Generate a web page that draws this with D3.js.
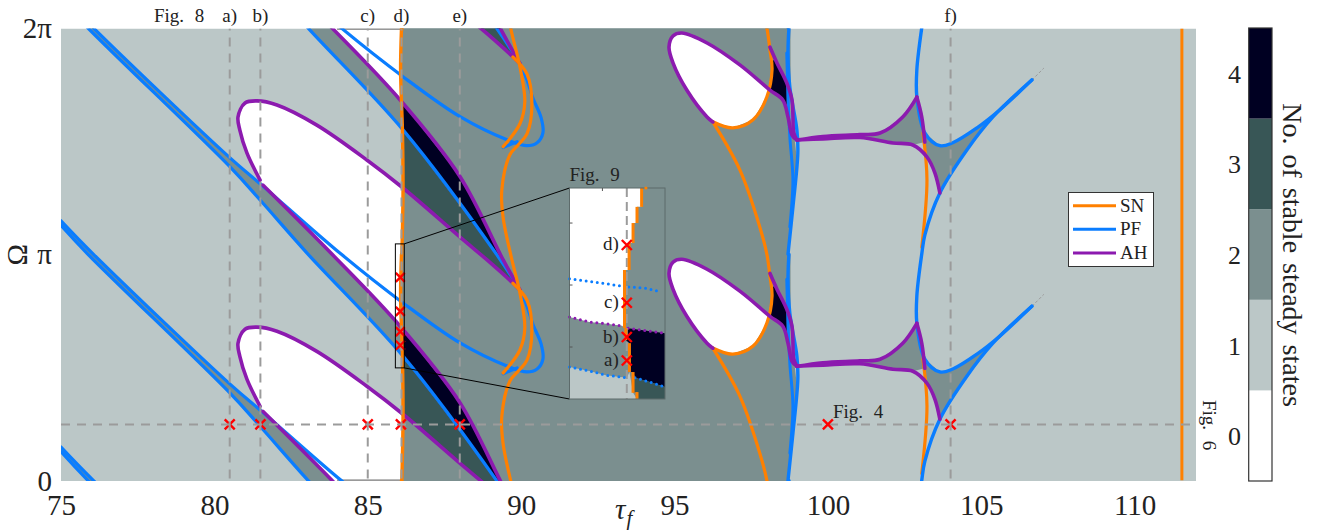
<!DOCTYPE html>
<html><head><meta charset="utf-8">
<style>html,body{margin:0;padding:0;background:#fff}svg{display:block}text{font-family:"Liberation Serif",serif;fill:#222}</style>
<script src="https://cdn.jsdelivr.net/npm/d3@7"></script></head><body><div id="c"></div>
<script>
// ---- colour levels (number of stable steady states)
const levels=[0,1,2,3,4];
const levelColors=["#ffffff","#bbc7c7","#7b8f8f","#385656","#000022"];
const ORANGE="#ff8000",BLUE="#0a7dff",PURPLE="#8c1aaf",GREY="#9b9b9b",RED="#ff0000";
// ---- axes
const xTicks=[75,80,85,90,95,100,105,110];
const yTicks=[0,1,2];
const yTickLabels=["0","π","2π"];
const cbTicks=[0,1,2,3,4];
// ---- the pattern repeats with period π in Ω: each curve is read once, in τ_f and Ω/π
const periods=[-2,-1,0,1,2];
const pfLowerTau=[75,75.88,80.51,81.49,83.05,86.15,89.21,89.96];
const pfLowerOm=[2.130,2.002,1.388,1.242,1.003,0.552,0,-0.155];
const pfUpperTau=[75,76.06,80.51,81.62,84.13,86.15,88.01,89.54,90.19,90.52,90.71,90.65,90.38,90.19,89.96];
const pfUpperOm=[2.150,2.002,1.428,1.299,1.003,0.787,0.610,0.508,0.482,0.495,0.539,0.606,0.694,0.773,0.844];
const ahDiagTau=[81.58,83.83,86.05,88.01,89.41,89.96];
const ahDiagOm=[1.308,1.003,0.685,0.345,-0.022,-0.155];
const ahLoopTau=[89.96,89.73,88.89,88.01,86.15,84.97,83.34,82.04,81.39,81.0,80.77,80.83,81.06,81.49];
const ahLoopOm=[0.844,0.875,0.977,1.078,1.295,1.419,1.573,1.662,1.680,1.671,1.609,1.551,1.450,1.330];
const snWallTau=[86.10,86.07,86.13,86.15,86.11];
const snWallOm=[2.002,1.817,1.551,1.286,0.995];
const snSTau=[89.73,90.19,90.35,90.19,89.90,89.63,89.37,89.41,89.70,89.96,90.12,89.96,89.41];
const snSOm=[1.874,1.799,1.666,1.534,1.485,1.441,1.286,1.167,0.977,0.831,0.676,0.579,0.477];
const pfStubTau=[89.41,89.87];
const pfStubOm=[0.474,0.500];
const ahEggTau=[98.99,98.83,98.70,98.53,98.11,97.13,96.06,95.24,94.95,94.82,94.95,95.40,96.06,96.25];
const ahEggOm=[1.507,1.529,1.609,1.684,1.728,1.839,1.936,1.980,1.967,1.918,1.848,1.728,1.609,1.587];
const ahSideTau=[98.11,98.34,98.66,98.83,98.89,98.99];
const ahSideOm=[1.918,1.848,1.759,1.684,1.538,1.507];
const snSpiralTau=[96.25,96.90,97.56,98.01,98.18,98.11,98.01,97.78,97.13,96.25];
const snSpiralOm=[0.588,0.561,0.597,0.698,0.818,0.906,1.003,1.123,1.375,1.587];
const pfVertATau=[98.73,98.70,98.76,98.99,99.02,98.86,98.70];
const pfVertAOm=[2.002,1.892,1.741,1.551,1.450,1.211,1.003];
const pfVertBTau=[98.66,98.70,98.76,98.86,98.76];
const pfVertBOm=[1.892,1.697,1.520,1.330,1.123];
const edgeTau=[98.78,98.79,98.92,98.99,98.83,98.72];
const edgeOm=[2.002,1.596,1.507,1.419,1.153,0.995];
const blackEggTau=[98.21,98.34,98.66,98.66,98.53,98.11,98.18];
const blackEggOm=[1.861,1.848,1.759,1.662,1.684,1.728,1.794];
const ahUpTau=[98.99,99.84,101.04,101.70,102.44,102.90];
const ahUpOm=[1.507,1.523,1.531,1.538,1.609,1.697];
const ahBackTau=[102.90,103.06,103.16];
const ahBackOm=[1.697,1.609,1.498];
const ahLowTau=[98.99,99.84,101.04,102.12,102.77,103.23,103.49,103.65];
const ahLowOm=[1.507,1.512,1.518,1.494,1.485,1.432,1.361,1.273];
const pfCuspTau=[106.65,105.38,104.53,103.65,103.16,103.06,102.90,102.90,103.16,103.65,104.07,104.86,105.61,106.65];
const pfCuspOm=[1.772,1.609,1.463,1.273,1.087,1.003,0.818,0.698,0.539,0.482,0.495,0.561,0.641,0.773];
const fanTau=[103.16,103.65,104.07,104.86,105.61,106.65,105.38,104.53,103.65,103.49,103.23,103.16];
const fanOm=[1.539,1.482,1.495,1.561,1.641,1.772,1.609,1.463,1.273,1.361,1.432,1.498];
const snShortTau=[103.10,103.23,103.06];
const snShortOm=[1.538,1.330,1.034];
const tailTau=[106.65,107.04];
const tailOm=[1.772,1.825];
const snFarTau=[111.54,111.54];
const snFarOm=[2,0.003];
// ---- dashed guide lines, crosses, labels
const guideTau=[80.5,81.5,85,86.1,88,104];
const guideLabels=["a)","b)","c)","d)","e)","f)"];
const guideOm=0.25;
const crossLowTau=[80.5,81.5,85,86.08,88,104];
const crossTopTau=[86.06,86.06,86.06,86.06];
const crossTopOm=[0.9,0.75,0.66,0.6];
const crossFig4=[100,0.25];
const legendNames=["SN","PF","AH"];
const legendColors=[ORANGE,BLUE,PURPLE];
// ---- magnified window (Fig. 9)
const winTau=[85.9,86.19];
const winOm=[0.5,1.048];
const stairTau=[86.119,86.105,86.093,86.081,86.067,86.071,86.082,86.093,86.105];
const stairTop=[1.048,0.999,0.957,0.905,0.835,0.684,0.645,0.570,0.518];
const stairBot=[0.999,0.957,0.905,0.835,0.684,0.653,0.570,0.516,0.5];
const stairDot=[86.132,1.048];
const ahInLTau=[85.90,85.96,86.00,86.06];
const ahInLOm=[0.713,0.700,0.697,0.690];
const ahInRTau=[86.078,86.135,86.19];
const ahInROm=[0.684,0.677,0.671];
const pfInLowLTau=[85.90,85.96,86.01,86.074];
const pfInLowLOm=[0.583,0.573,0.562,0.555];
const pfInLowRTau=[86.099,86.144,86.19];
const pfInLowROm=[0.555,0.544,0.531];
const pfInUpLTau=[85.90,85.99,86.06];
const pfInUpLOm=[0.812,0.802,0.793];
const pfInUpRTau=[86.08,86.13,86.18];
const pfInUpROm=[0.791,0.788,0.778];
const winTickTau=[86.0];
const winTickOm=[0.957,0.796,0.635];
const winGuideTau=86.074;
const winCrossOm=[0.6,0.661,0.75,0.9];
const winCrossLabels=["a)","b)","c)","d)"];

const W=1317,H=530;
const svg=d3.select("#c").append("svg").attr("width",W).attr("height",H);
const x=d3.scaleLinear().domain([75,112]).range([61,1196]);
const y=d3.scaleLinear().domain([0,2]).range([481,28.5]);
const ix=d3.scaleLinear().domain(winTau).range([569.5,665]);
const iy=d3.scaleLinear().domain(winOm).range([399,188]);
const cb=d3.scaleLinear().domain([-0.5,4.5]).range([481,28]);

const zip=(t,o,k=0)=>t.map((d,i)=>[d,o[i]+k]);
const smooth=d3.line().x(d=>x(d[0])).y(d=>y(d[1])).curve(d3.curveCatmullRom.alpha(0.5));
const straight=d3.line().x(d=>x(d[0])).y(d=>y(d[1]));
const iLine=d3.line().x(d=>ix(d[0])).y(d=>iy(d[1]));

svg.append("clipPath").attr("id","plot").append("rect")
  .attr("x",x(75)).attr("y",y(2)).attr("width",x(112)-x(75)).attr("height",y(0)-y(2));
const g=svg.append("g").attr("clip-path","url(#plot)");
g.append("rect").attr("x",x(75)).attr("y",y(2)).attr("width",x(112)-x(75)).attr("height",y(0)-y(2)).attr("fill",levelColors[1]);

function fill(col,fn){periods.forEach(k=>g.append("path").attr("d",straight(fn(k))+"Z").attr("fill",col));}
function trace(t,o,col,w){periods.forEach(k=>g.append("path").attr("d",smooth(zip(t,o,k))).attr("fill","none").attr("stroke",col).attr("stroke-width",w).attr("stroke-linecap","round").attr("stroke-linejoin","round"));}

// regions
fill(levelColors[2],k=>[...zip(pfLowerTau,pfLowerOm,k).slice(0,6),...zip(ahDiagTau,ahDiagOm,k).slice(0,3).reverse(),...zip(pfUpperTau,pfUpperOm,k).slice(0,4).reverse()]);
fill(levelColors[2],k=>[...zip(snWallTau,snWallOm,k),...zip(edgeTau,edgeOm,k).reverse()]);
fill(levelColors[0],k=>[...zip(ahLoopTau,ahLoopOm,k).slice(4),...zip(ahDiagTau,ahDiagOm,k).slice(0,3)]);
fill(levelColors[4],k=>[...zip(ahDiagTau,ahDiagOm,k).slice(2),...zip(pfLowerTau,pfLowerOm,k).slice(5,7).reverse()]);
fill(levelColors[3],k=>[...zip(pfLowerTau,pfLowerOm,k).slice(5),...zip(ahLoopTau,ahLoopOm,k-1).slice(0,5)]);
fill(levelColors[0],k=>[...zip(ahEggTau,ahEggOm,k).slice(4),...zip(snSpiralTau,snSpiralOm,k+1).slice(1,4),...zip(snSpiralTau,snSpiralOm,k+1).slice(4,5)]);
fill(levelColors[4],k=>zip(blackEggTau,blackEggOm,k));
fill(levelColors[2],k=>[...zip(ahUpTau,ahUpOm,k),...zip(ahBackTau,ahBackOm,k).slice(1),...zip(ahLowTau,ahLowOm,k).slice(0,5).reverse()]);
fill(levelColors[2],k=>zip(fanTau,fanOm,k));

// thin frame seen through the white region
[[2,"#333"],[0,"#777"]].forEach(([om,c])=>g.append("line").attr("x1",x(84)).attr("x2",x(86.1)).attr("y1",y(om)+(om?0.5:-0.8)).attr("y2",y(om)+(om?0.5:-0.8)).attr("stroke",c).attr("stroke-width",1.2));

// curves
trace(snSpiralTau,snSpiralOm,ORANGE,3.2);
trace(snShortTau,snShortOm,ORANGE,3.2);
g.append("path").attr("d",straight(zip(snFarTau,snFarOm))).attr("stroke",ORANGE).attr("stroke-width",3).attr("fill","none");
periods.forEach(k=>g.append("path").attr("d",straight(zip(tailTau,tailOm,k))).attr("stroke",GREY).attr("stroke-width",1).attr("stroke-dasharray","3 2").attr("fill","none"));
trace(pfLowerTau,pfLowerOm,BLUE,3.2);
trace(pfUpperTau,pfUpperOm,BLUE,3.2);
trace(pfStubTau,pfStubOm,BLUE,3.2);
trace(pfVertATau,pfVertAOm,BLUE,3.4);
trace(pfVertBTau,pfVertBOm,BLUE,3);
trace(pfCuspTau,pfCuspOm,BLUE,3.4);
trace(ahDiagTau,ahDiagOm,PURPLE,3.6);
trace(ahLoopTau,ahLoopOm,PURPLE,3.6);
trace(ahEggTau,ahEggOm,PURPLE,3.6);
trace(ahSideTau,ahSideOm,PURPLE,3.6);
trace(ahUpTau,ahUpOm,PURPLE,3.6);
trace(ahBackTau,ahBackOm,PURPLE,3.6);
trace(ahLowTau,ahLowOm,PURPLE,3.6);
trace(snSTau,snSOm,ORANGE,3.2);
trace(snWallTau,snWallOm,ORANGE,3.4);

function cross(p,a,b,s,col=RED,w=2.4){p.append("path").attr("d",`M${a-s},${b-s}L${a+s},${b+s}M${a-s},${b+s}L${a+s},${b-s}`).attr("stroke",col).attr("stroke-width",w).attr("fill","none");}
crossLowTau.forEach(t=>cross(g,x(t),y(guideOm),5));
// guides
guideTau.forEach(t=>g.append("line").attr("x1",x(t)).attr("x2",x(t)).attr("y1",y(2)).attr("y2",y(0)).attr("stroke",GREY).attr("stroke-width",2).attr("stroke-dasharray","9 7").attr("stroke-dashoffset",-9));
g.append("line").attr("x1",x(75)).attr("x2",x(112)).attr("y1",y(guideOm)).attr("y2",y(guideOm)).attr("stroke",GREY).attr("stroke-width",2).attr("stroke-dasharray","9 7");
crossTopTau.forEach((t,i)=>cross(svg,x(t),y(crossTopOm[i]),4.5));
cross(svg,x(crossFig4[0]),y(crossFig4[1]),5);

// window marker and connectors
svg.append("rect").attr("x",x(winTau[0])).attr("y",y(winOm[1])).attr("width",x(winTau[1])-x(winTau[0])).attr("height",y(winOm[0])-y(winOm[1])).attr("fill","none").attr("stroke","#000").attr("stroke-width",1);
[[winOm[1]],[winOm[0]]].forEach(([o])=>svg.append("line").attr("x1",x(winTau[1])).attr("y1",y(o)).attr("x2",ix(winTau[0])).attr("y2",iy(o)).attr("stroke","#000").attr("stroke-width",1));

// magnified window
const w=svg.append("g");
const stepsDown=(a,b)=>{const r=[];for(let i=a;i<=b;i++){r.push([stairTau[i],stairTop[i]]);r.push([stairTau[i],stairBot[i]]);}return r;};
w.append("rect").attr("x",ix(winTau[0])).attr("y",iy(winOm[1])).attr("width",ix(winTau[1])-ix(winTau[0])).attr("height",iy(winOm[0])-iy(winOm[1])).attr("fill",levelColors[2]);
const ipoly=(pts,c)=>w.append("path").attr("d",iLine(pts)+"Z").attr("fill",c);
ipoly([[winTau[0],winOm[1]],...stepsDown(0,4),...zip(ahInLTau,ahInLOm).reverse()],levelColors[0]);
ipoly([...zip(pfInLowLTau,pfInLowLOm),[stairTau[6],stairBot[6]],[stairTau[7],stairBot[7]],[stairTau[8],stairBot[8]],[winTau[0],winOm[0]]],levelColors[1]);
ipoly([[stairTau[5],stairTop[5]],...zip(ahInRTau,ahInROm),...zip(pfInLowRTau,pfInLowROm).reverse(),[stairTau[7],stairTop[7]],[stairTau[6],stairBot[6]],[stairTau[6],stairTop[6]],[stairTau[5],stairBot[5]]],levelColors[4]);
ipoly([[stairTau[7],stairTop[7]],...zip(pfInLowRTau,pfInLowROm),[winTau[1],winOm[0]],[stairTau[8],winOm[0]],[stairTau[8],stairTop[8]],[stairTau[7],stairBot[7]]],levelColors[3]);
[[pfInUpLTau,pfInUpLOm,BLUE],[pfInUpRTau,pfInUpROm,BLUE],[pfInLowLTau,pfInLowLOm,BLUE],[pfInLowRTau,pfInLowROm,BLUE],[ahInLTau,ahInLOm,PURPLE],[ahInRTau,ahInROm,PURPLE]].forEach(([t,o,c])=>
  w.append("path").attr("d",iLine(zip(t,o))).attr("fill","none").attr("stroke",c).attr("stroke-width",3).attr("stroke-linecap","round").attr("stroke-dasharray","0 5.6"));
w.append("line").attr("x1",ix(winGuideTau)).attr("x2",ix(winGuideTau)).attr("y1",iy(winOm[1])).attr("y2",iy(winOm[0])).attr("stroke",GREY).attr("stroke-width",2).attr("stroke-dasharray","9 5");
stairTau.forEach((t,i)=>w.append("line").attr("x1",ix(t)).attr("x2",ix(t)).attr("y1",iy(stairTop[i])).attr("y2",iy(stairBot[i])).attr("stroke",ORANGE).attr("stroke-width",3));
w.append("rect").attr("x",ix(winTau[0])).attr("y",iy(winOm[1])).attr("width",ix(winTau[1])-ix(winTau[0])).attr("height",iy(winOm[0])-iy(winOm[1])).attr("fill","none").attr("stroke","#5d6b6b").attr("stroke-width",1);
w.append("circle").attr("cx",ix(stairDot[0])).attr("cy",iy(stairDot[1])).attr("r",1.6).attr("fill",ORANGE);
winTickTau.forEach(t=>w.append("line").attr("x1",ix(t)).attr("x2",ix(t)).attr("y1",iy(winOm[1])).attr("y2",iy(winOm[1])+3).attr("stroke","#555"));
winTickOm.forEach(o=>w.append("line").attr("x1",ix(winTau[0])).attr("x2",ix(winTau[0])+3).attr("y1",iy(o)).attr("y2",iy(o)).attr("stroke","#555"));
winCrossOm.forEach((o,i)=>{cross(w,ix(winGuideTau),iy(o),5);
  w.append("text").attr("x",ix(winGuideTau)-8).attr("y",iy(o)+5.5).attr("text-anchor","end").attr("font-size",19).text(winCrossLabels[i]);});
svg.append("text").attr("x",569.5).attr("y",181).attr("font-size",19).attr("word-spacing",6).text("Fig. 9");

// axes
const ax=svg.append("g").attr("transform",`translate(0,${y(0)})`).call(d3.axisBottom(x).tickValues(xTicks).tickFormat(d3.format("d")).tickSize(0));
ax.select(".domain").remove();
ax.selectAll("text").attr("y",34).attr("dy",0).attr("font-size",29).style("font-family",'"Liberation Serif",serif').attr("fill","#222");
const ay=svg.append("g").attr("transform",`translate(52,0)`).call(d3.axisLeft(y).tickValues(yTicks).tickFormat((d,i)=>yTickLabels[i]).tickSize(0).tickPadding(0));
ay.select(".domain").remove();
ay.selectAll("text").attr("dy",9).attr("font-size",29).style("font-family",'"Liberation Serif",serif').attr("fill","#222");
svg.append("text").attr("transform",`translate(27,${y(1)}) rotate(-90)`).attr("text-anchor","middle").attr("font-size",29).text("Ω");
const tl=svg.append("text").attr("x",615).attr("y",519).attr("font-size",29).attr("font-style","italic");
tl.append("tspan").text("τ");
tl.append("tspan").attr("dy",6).attr("dx",1).attr("font-size",21).text("f");

// guide labels
guideTau.forEach((t,i)=>svg.append("text").attr("x",x(t)).attr("y",22).attr("text-anchor","middle").attr("font-size",19).text(guideLabels[i]));
svg.append("text").attr("x",154).attr("y",22).attr("font-size",19).attr("word-spacing",6).text("Fig. 8");
svg.append("text").attr("x",833).attr("y",418).attr("font-size",19).attr("word-spacing",6).text("Fig. 4");
svg.append("text").attr("transform","translate(1203,400) rotate(90)").attr("font-size",19).attr("word-spacing",6).text("Fig. 6");

// legend
const lg=svg.append("g");
lg.append("rect").attr("x",1068.5).attr("y",192.5).attr("width",85).attr("height",74).attr("fill","#fff").attr("stroke","#333");
legendNames.forEach((n,i)=>{const ly=205.7+i*23.6;
  lg.append("line").attr("x1",1073).attr("x2",1116).attr("y1",ly).attr("y2",ly).attr("stroke",legendColors[i]).attr("stroke-width",3);
  lg.append("text").attr("x",1120).attr("y",ly+6).attr("font-size",19).text(n);});

// colour bar
levels.forEach(l=>svg.append("rect").attr("x",1249).attr("width",23).attr("y",cb(l+0.5)).attr("height",cb(l-0.5)-cb(l+0.5)).attr("fill",levelColors[l]));
svg.append("rect").attr("x",1248.7).attr("width",23.3).attr("y",28).attr("height",453).attr("fill","none").attr("stroke","#333").attr("stroke-width",1.2);
const ac=svg.append("g").attr("transform","translate(1241,0)").call(d3.axisLeft(cb).tickValues(cbTicks).tickFormat(d3.format("d")).tickSize(0).tickPadding(0));
ac.select(".domain").remove();
ac.selectAll("text").attr("dy",9).attr("font-size",26).style("font-family",'"Liberation Serif",serif').attr("fill","#222");
svg.append("text").attr("transform","translate(1283,255) rotate(90)").attr("text-anchor","middle").attr("font-size",28).attr("word-spacing",3).text("No. of stable steady states");
</script></body></html>
